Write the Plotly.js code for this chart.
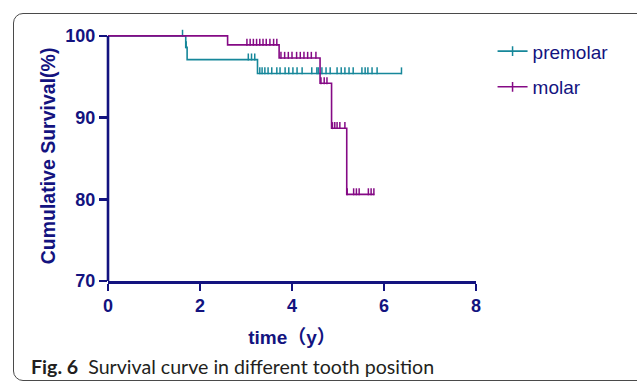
<!DOCTYPE html>
<html>
<head>
<meta charset="utf-8">
<script src="https://cdn.plot.ly/plotly-3.0.1.min.js"></script>
<style>
  html, body { margin: 0; padding: 0; background: #fff; }
  #wrap { position: relative; width: 637px; height: 383px; overflow: hidden; }
  #frame { position: absolute; left: 13px; top: 13px; width: 640px; height: 366px;
           border: 1.3px solid #4a4a4a; border-radius: 10px; pointer-events: none; }
  #chart { position: absolute; left: 0; top: 0; width: 637px; height: 383px; }
</style>
</head>
<body>
<div id="wrap">
  <div id="chart"></div>
  <div id="frame"></div>
</div>
<script>
// ---- data ----
const seriesNames = ["premolar", "molar"];

// Kaplan-Meier step curves (time in years, cumulative survival in %)
const premolarTime = [0, 1.69, 1.72, 3.25, 6.38];
const premolarSurv = [100, 98.6, 97.1, 95.4, 95.4];
const premolarCensor = [1.62, 1.70, 3.05, 3.12, 3.19,
  3.30, 3.35, 3.41, 3.48, 3.56, 3.67, 3.74, 3.85, 3.93, 4.02, 4.11, 4.22,
  4.43, 4.54, 4.57, 4.65, 4.74, 4.83, 4.98, 5.07, 5.15, 5.24, 5.33,
  5.52, 5.59, 5.65, 5.74, 5.85, 6.38];

const molarTime = [0, 2.60, 3.72, 4.61, 4.86, 5.19, 5.79];
const molarSurv = [100, 98.9, 97.3, 94.2, 88.7, 80.6, 80.6];
const molarCensor = [3.02, 3.09, 3.16, 3.23, 3.30, 3.37, 3.44, 3.52, 3.60, 3.67,
  3.76, 3.84, 3.92, 4.00, 4.10, 4.18, 4.26, 4.34, 4.42, 4.52,
  4.63, 4.70, 4.76, 4.88, 4.93, 4.98, 5.04, 5.15,
  5.20, 5.34, 5.40, 5.46, 5.66, 5.72, 5.78];

const xTicks = [0, 2, 4, 6, 8];
const yTicks = [70, 80, 90, 100];

// ---- styling ----
const NAVY = "#13137f";
const colors = ["#16879a", "#850a85"];
const CENSOR_LIFT = 0.32; // censor ticks sit just above the curve

function levelAt(T, S, t) {
  let v = S[0];
  for (let i = 0; i < T.length; i++) { if (T[i] <= t) v = S[i]; }
  return v;
}

const curves = [
  { T: premolarTime, S: premolarSurv, C: premolarCensor },
  { T: molarTime, S: molarSurv, C: molarCensor }
];

const traces = [];
curves.forEach((c, i) => {
  traces.push({
    x: c.T, y: c.S, type: "scatter", mode: "lines",
    line: { shape: "hv", color: colors[i], width: 1.6 },
    showlegend: false, hoverinfo: "skip"
  });
  traces.push({
    x: c.C, y: c.C.map(t => levelAt(c.T, c.S, t) + CENSOR_LIFT),
    type: "scatter", mode: "markers", cliponaxis: false,
    marker: { symbol: "line-ns-open", size: 5, color: colors[i], line: { color: colors[i], width: 1.5 } },
    showlegend: false, hoverinfo: "skip"
  });
});
curves.forEach((c, i) => {
  traces.push({
    x: [null], y: [null], type: "scatter", mode: "lines+markers",
    name: seriesNames[i], legendgroup: "g" + i,
    line: { color: colors[i], width: 1.6 },
    marker: { symbol: "line-ns-open", size: 7, color: colors[i], line: { color: colors[i], width: 1.5 } }
  });
});

const tickFont = { family: "Liberation Sans, Arial, sans-serif", size: 18, weight: "bold", color: NAVY };

const layout = {
  width: 637, height: 383,
  margin: { l: 108, r: 161, t: 31, b: 102, pad: 0 },
  paper_bgcolor: "rgba(0,0,0,0)", plot_bgcolor: "rgba(0,0,0,0)",
  showlegend: true,
  legend: {
    x: 1.045, xanchor: "left", y: 0.995, yanchor: "top",
    font: { family: "Liberation Sans, Arial, sans-serif", size: 19, color: NAVY },
    tracegroupgap: 8, bgcolor: "rgba(0,0,0,0)"
  },
  xaxis: {
    range: [0, 8], tickvals: xTicks, ticktext: xTicks.map(String),
    showgrid: false, zeroline: false,
    showline: true, linecolor: NAVY, linewidth: 2.6,
    ticks: "outside", ticklen: 7, tickwidth: 2.6, tickcolor: NAVY,
    tickfont: tickFont,
    title: { text: "time（y）", font: { family: "Liberation Sans, Noto Sans CJK SC, Arial, sans-serif", size: 19, weight: "bold", color: NAVY }, standoff: 16 }
  },
  yaxis: {
    range: [70, 100.6], tickvals: yTicks, ticktext: yTicks.map(String),
    showgrid: false, zeroline: false, showline: false,
    ticks: "outside", ticklen: 8, tickwidth: 2.6, tickcolor: NAVY,
    tickfont: tickFont,
    title: { text: "Cumulative Survival(%)", font: { family: "Liberation Sans, Arial, sans-serif", size: 19.5, weight: "bold", color: NAVY }, standoff: 4 }
  },
  shapes: [
    { type: "line", xref: "paper", yref: "y", x0: 0, x1: 0, y0: 70, y1: 100,
      line: { color: NAVY, width: 2.6 } }
  ],
  annotations: [
    { xref: "paper", yref: "paper", x: -0.214, y: -0.34, xanchor: "left", yanchor: "middle",
      showarrow: false, align: "left",
      text: "<b>Fig. 6</b>\u00a0\u00a0Survival curve in different tooth position",
      font: { family: "Lato, Open Sans, sans-serif", size: 19.6, color: "#231f20" } }
  ]
};

Plotly.newPlot("chart", traces, layout, { staticPlot: true, displayModeBar: false });
</script>
</body>
</html>
